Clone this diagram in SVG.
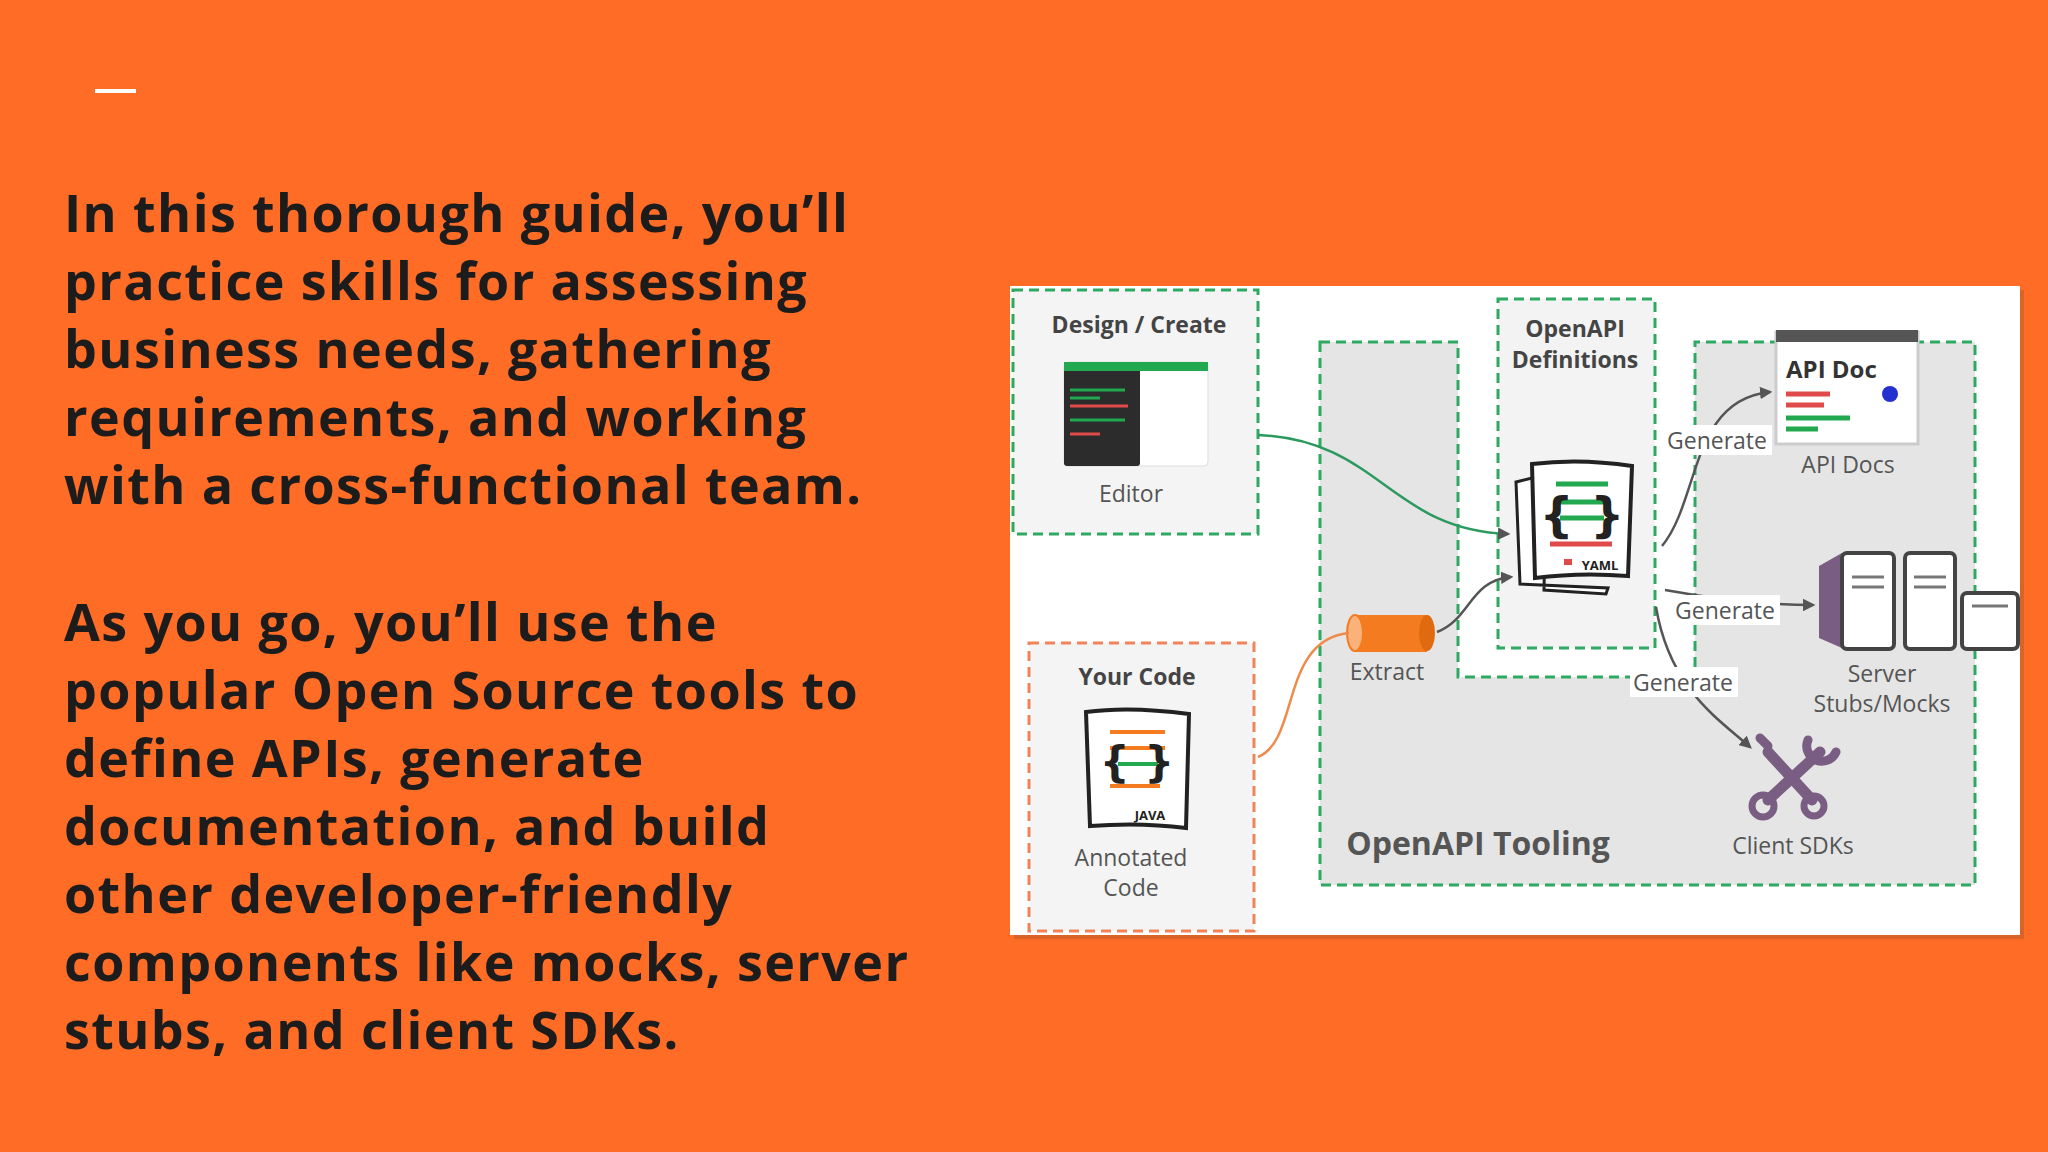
<svg xmlns="http://www.w3.org/2000/svg" width="2048" height="1152" viewBox="0 0 2048 1152">
<defs>
<style>
.body{font-family:"Open Sans","Noto Sans",sans-serif;font-weight:700;font-size:52px;letter-spacing:1.4px;fill:#1c1c1c}
.lbl{font-family:"Open Sans","Noto Sans",sans-serif;font-size:23px;fill:#555;text-anchor:middle}
.ttl{font-family:"Open Sans","Noto Sans",sans-serif;font-weight:700;font-size:23px;fill:#444;text-anchor:middle}
.gd{stroke:#2fa862;stroke-width:3;stroke-dasharray:10 6}
.od{stroke:#f0845a;stroke-width:3;stroke-dasharray:10 6}
.gen{fill:#fff}
</style>
<marker id="ag" viewBox="0 0 10 10" refX="8" refY="5" markerWidth="5" markerHeight="5" orient="auto"><path d="M0,0L10,5L0,10z" fill="#555"/></marker>
</defs>
<rect width="2048" height="1152" fill="#ff6c26"/>
<rect x="95" y="89" width="41" height="4" fill="#fff"/>
<g id="text">
<text class="body" x="64" y="232">In this thorough guide, you’ll</text>
<text class="body" x="64" y="300">practice skills for assessing</text>
<text class="body" x="64" y="368">business needs, gathering</text>
<text class="body" x="64" y="436">requirements, and working</text>
<text class="body" x="64" y="504">with a cross-functional team.</text>
<text class="body" x="64" y="641">As you go, you’ll use the</text>
<text class="body" x="64" y="709">popular Open Source tools to</text>
<text class="body" x="64" y="777">define APIs, generate</text>
<text class="body" x="64" y="845">documentation, and build</text>
<text class="body" x="64" y="913">other developer-friendly</text>
<text class="body" x="64" y="981">components like mocks, server</text>
<text class="body" x="64" y="1049">stubs, and client SDKs.</text>
</g>
<rect x="1014" y="290" width="1010" height="649" fill="#b65a2a" opacity="0.5"/>
<rect x="1010" y="286" width="1010" height="649" fill="#fff"/>
<g id="tooling">
<path d="M1320,342H1458V677H1695V342H1975V885H1320Z" fill="#e5e5e5" class="gd"/>
<text x="1478" y="855" font-family="Open Sans,sans-serif" font-weight="700" font-size="32" fill="#555" text-anchor="middle">OpenAPI Tooling</text>
</g>
<g id="design">
<rect x="1013" y="290" width="245" height="244" fill="#f4f4f4" class="gd"/>
<text class="ttl" x="1139" y="333">Design / Create</text>
<rect x="1064" y="362" width="144" height="104" rx="4" fill="#fff" stroke="#ddd"/>
<rect x="1064" y="362" width="76" height="104" rx="3" fill="#2c2c2c"/>
<rect x="1064" y="362" width="144" height="9" fill="#22a84f"/>
<g stroke-width="3"><line x1="1070" y1="390" x2="1125" y2="390" stroke="#22a84f"/><line x1="1070" y1="398" x2="1100" y2="398" stroke="#22a84f"/><line x1="1070" y1="406" x2="1128" y2="406" stroke="#e04a4a"/><line x1="1070" y1="420" x2="1125" y2="420" stroke="#22a84f"/><line x1="1070" y1="434" x2="1100" y2="434" stroke="#e04a4a"/></g>
<text class="lbl" x="1131" y="502">Editor</text>
</g>
<g id="yourcode">
<rect x="1029" y="643" width="225" height="288" fill="#f4f4f4" class="od"/>
<text class="ttl" x="1137" y="685">Your Code</text>
<path d="M1086,712Q1130,706 1189,714L1186,828Q1140,822 1090,826Z" fill="#fff" stroke="#222" stroke-width="4"/>
<g stroke-width="4"><line x1="1110" y1="732" x2="1165" y2="732" stroke="#f47b20"/><line x1="1110" y1="748" x2="1165" y2="748" stroke="#f47b20"/><line x1="1118" y1="764" x2="1158" y2="764" stroke="#22a84f"/><line x1="1110" y1="786" x2="1160" y2="786" stroke="#f47b20"/></g>
<text x="1137" y="777" font-family="DejaVu Sans,sans-serif" font-weight="700" font-size="42" fill="#222" text-anchor="middle">{ }</text>
<text x="1150" y="820" font-family="Open Sans,sans-serif" font-weight="700" font-size="13" fill="#222" text-anchor="middle">JAVA</text>
<text class="lbl" x="1131" y="866">Annotated</text>
<text class="lbl" x="1131" y="896">Code</text>
</g>
<g id="definitions">
<rect x="1498" y="299" width="157" height="349" fill="#f3f3f3" class="gd"/>
<text class="ttl" x="1575" y="337">OpenAPI</text>
<text class="ttl" x="1575" y="368">Definitions</text>
<path d="M1516,482L1532,478L1546,480L1544,590L1606,594L1608,588L1520,584Z" fill="#fff" stroke="#222" stroke-width="3"/>
<path d="M1532,464Q1580,458 1632,466L1628,576Q1580,572 1535,578Z" fill="#fff" stroke="#222" stroke-width="4"/>
<g stroke-width="5"><line x1="1556" y1="484" x2="1608" y2="484" stroke="#22a84f"/><line x1="1560" y1="502" x2="1604" y2="502" stroke="#22a84f"/><line x1="1560" y1="518" x2="1604" y2="518" stroke="#22a84f"/><line x1="1550" y1="544" x2="1612" y2="544" stroke="#e04a4a"/></g>
<text x="1582" y="532" font-family="DejaVu Sans,sans-serif" font-weight="700" font-size="48" fill="#222" text-anchor="middle">{ }</text>
<text x="1600" y="570" font-family="Open Sans,sans-serif" font-weight="700" font-size="13" fill="#222" text-anchor="middle">YAML</text>
<rect x="1564" y="559" width="8" height="6" fill="#e04a4a"/>
</g>
<g id="extract">
<rect x="1355" y="615" width="72" height="37" fill="#f47b20"/>
<ellipse cx="1427" cy="633" rx="8" ry="18" fill="#e06a10"/>
<ellipse cx="1355" cy="633" rx="8" ry="18" fill="#fbb27a" stroke="#f47b20" stroke-width="2"/>
<text class="lbl" x="1387" y="680">Extract</text>
</g>
<g id="apidocs">
<rect x="1776" y="332" width="142" height="112" fill="#fff" stroke="#ccc" stroke-width="3"/>
<rect x="1776" y="330" width="142" height="12" fill="#555"/>
<text x="1786" y="378" font-family="Open Sans,sans-serif" font-weight="700" font-size="24" fill="#333">API Doc</text>
<circle cx="1890" cy="394" r="8" fill="#2430d0"/>
<g stroke-width="5"><line x1="1786" y1="394" x2="1830" y2="394" stroke="#e04a4a"/><line x1="1786" y1="405" x2="1824" y2="405" stroke="#e04a4a"/><line x1="1786" y1="418" x2="1850" y2="418" stroke="#22a84f"/><line x1="1786" y1="429" x2="1818" y2="429" stroke="#22a84f"/></g>
<text class="lbl" x="1848" y="473">API Docs</text>
</g>
<g id="servers">
<path d="M1819,566L1842,553V648L1819,638Z" fill="#7a5d82"/>
<rect x="1842" y="553" width="52" height="96" rx="5" fill="#fff" stroke="#444" stroke-width="4"/>
<rect x="1905" y="553" width="50" height="96" rx="5" fill="#fff" stroke="#444" stroke-width="4"/>
<rect x="1962" y="593" width="56" height="56" rx="5" fill="#fff" stroke="#444" stroke-width="4"/>
<g stroke="#777" stroke-width="3"><line x1="1852" y1="577" x2="1884" y2="577"/><line x1="1852" y1="587" x2="1884" y2="587"/><line x1="1914" y1="577" x2="1946" y2="577"/><line x1="1914" y1="587" x2="1946" y2="587"/><line x1="1972" y1="606" x2="2008" y2="606"/></g>
<text class="lbl" x="1882" y="682">Server</text>
<text class="lbl" x="1882" y="712">Stubs/Mocks</text>
</g>
<g id="sdks" stroke="#7a5d82" stroke-width="11" stroke-linecap="round" fill="none">
<line x1="1768" y1="800" x2="1820" y2="752"/>
<line x1="1768" y1="752" x2="1812" y2="800"/>
<circle cx="1763" cy="806" r="11" stroke-width="7"/>
<path d="M1808,740A14,14 0 1 0 1836,752" stroke-width="9"/>
<path d="M1768,746L1760,738" stroke-width="9"/>
<circle cx="1814" cy="806" r="10" stroke-width="7"/>
</g>
<text class="lbl" x="1793" y="854">Client SDKs</text>
<g id="connectors" fill="none" stroke-width="2.5">
<path d="M1258,435C1380,440 1390,530 1508,534" stroke="#2c9a5e" marker-end="url(#ag)"/>
<path d="M1437,632C1470,620 1470,580 1511,577" stroke="#555" marker-end="url(#ag)"/>
<path d="M1258,757C1300,740 1280,640 1349,633" stroke="#f08a4a"/>
<path d="M1662,546C1700,500 1690,400 1770,392" stroke="#555" marker-end="url(#ag)"/>
<path d="M1665,590C1720,600 1770,605 1813,605" stroke="#555" marker-end="url(#ag)"/>
<path d="M1656,607C1670,690 1720,720 1750,747" stroke="#555" marker-end="url(#ag)"/>
</g>
<g id="labels">
<rect class="gen" x="1664" y="425" width="108" height="30"/><text class="lbl" x="1717" y="449">Generate</text>
<rect class="gen" x="1672" y="595" width="108" height="30"/><text class="lbl" x="1725" y="619">Generate</text>
<rect class="gen" x="1630" y="667" width="108" height="30"/><text class="lbl" x="1683" y="691">Generate</text>
</g>
</svg>
